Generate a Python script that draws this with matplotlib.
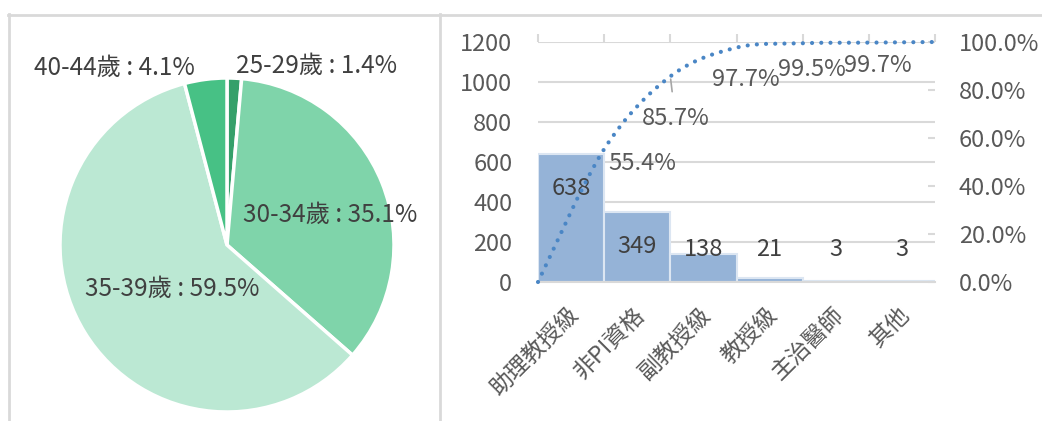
import numpy as np
import matplotlib.pyplot as plt
from matplotlib.path import Path
from matplotlib.patches import PathPatch
import matplotlib.transforms as mtransforms

plt.rcParams['font.family'] = ['Noto Sans CJK TC', 'DejaVu Sans']
plt.rcParams['font.weight'] = 'light'

# pie data
age_groups = ['25-29歲', '30-34歲', '35-39歲', '40-44歲']
age_share = [1.4, 35.1, 59.5, 4.1]
pie_colors = ['#35a06a', '#7fd4aa', '#bbe8d3', '#47c185']

# pareto data
titles = ['助理教授級', '非PI資格', '副教授級', '教授級', '主治醫師', '其他']
counts = [638, 349, 138, 21, 3, 3]

TXT = '#404040'
AX_TXT = '#595959'
GRID = '#d9d9d9'

W, H = 1042, 421
fig = plt.figure(figsize=(W / 100, H / 100), dpi=100)


def px_box(x0, y0, w, h):
    """pixel box (from top-left) -> figure fraction rect"""
    return [x0 / W, (H - y0 - h) / H, w / W, h / H]


# panel frames
frame = fig.add_axes([0, 0, 1, 1])
frame.set_xlim(0, W)
frame.set_ylim(H, 0)
frame.axis('off')
frame.plot([8, W], [14.5, 14.5], color=GRID, lw=2)
frame.plot([8.5, 8.5], [14, H], color=GRID, lw=2)
frame.plot([440, 440], [14, H], color=GRID, lw=2)

# ---- pie ----
cx, cy, r = 227, 245, 167
axp = fig.add_axes(px_box(cx - r, cy - r, 2 * r, 2 * r))
axp.pie(age_share, colors=pie_colors, startangle=90, counterclock=False,
        radius=1, wedgeprops=dict(edgecolor='white', linewidth=2.5))
axp.set_xlim(-1, 1)
axp.set_ylim(-1, 1)
axp.axis('off')

# label centres in pixels
pie_label_px = [(317, 66), (330, 215), (172, 289), (114, 68)]
for name, v, (lx, ly) in zip(age_groups, age_share, pie_label_px):
    axp.text((lx - cx) / r, (cy - ly) / r, f'{name} : {v}%', ha='center',
             va='center', fontsize=17.5, color=TXT)

# ---- pareto ----
ax = fig.add_axes(px_box(538, 42, 397, 240))
x = np.arange(len(counts))
ax.bar(x, counts, width=1.0, color='#95b3d7', edgecolor='#dce6f2',
       linewidth=1.5, zorder=2)
ax.set_xlim(-0.5, len(counts) - 0.5)
ax.set_ylim(0, 1200)
ax.set_yticks(range(0, 1201, 200))
ax.yaxis.grid(True, color=GRID, lw=1.5, zorder=0)
ax.set_axisbelow(True)
for s in ['top', 'left', 'right']:
    ax.spines[s].set_visible(False)
ax.spines['bottom'].set_color(GRID)
ax.spines['bottom'].set_linewidth(1.5)
ax.tick_params(axis='y', length=0, pad=18.5, labelsize=17, labelcolor=AX_TXT)
ax.set_xticks(x)
ax.set_xticklabels(titles)
ax.tick_params(axis='x', length=0, pad=15, labelsize=16.5, labelcolor=AX_TXT)
offset = mtransforms.ScaledTranslation(-4 / 100, 0, fig.dpi_scale_trans)
for lab in ax.get_xticklabels():
    lab.set_rotation(45)
    lab.set_ha('right')
    lab.set_rotation_mode('anchor')
    lab.set_transform(lab.get_transform() + offset)
# boundary ticks on top gridline
ax.set_xticks(np.arange(-0.5, len(counts)), minor=True)
ax.tick_params(axis='x', which='minor', bottom=False, top=True,
               direction='out', length=6, width=1.5, color=GRID)

for xi, v in zip(x, counts):
    ax.text(xi, max(v - 170, 160), str(v), ha='center', va='center',
            fontsize=17, color=TXT, zorder=4)

# cumulative percentage on secondary axis
ax2 = ax.twinx()
ax2.set_ylim(0, 1)
ax2.set_yticks(np.linspace(0, 1, 6))
ax2.set_yticklabels([f'{t * 100:.1f}%' for t in np.linspace(0, 1, 6)])
ax2.tick_params(axis='y', direction='in', length=5, width=1.5, color=GRID,
                pad=17, labelsize=17, labelcolor=AX_TXT)
for s in ax2.spines.values():
    s.set_visible(False)

cum = np.concatenate([[0], np.cumsum(counts) / np.sum(counts)])
cx_pts = np.arange(-0.5, len(counts))

# smoothed line (cubic bezier through the points)
verts = [(cx_pts[0], cum[0])]
codes = [Path.MOVETO]
n = len(cum)
for i in range(n - 1):
    p0 = np.array([cx_pts[max(i - 1, 0)], cum[max(i - 1, 0)]])
    p1 = np.array([cx_pts[i], cum[i]])
    p2 = np.array([cx_pts[i + 1], cum[i + 1]])
    p3 = np.array([cx_pts[min(i + 2, n - 1)], cum[min(i + 2, n - 1)]])
    c1 = p1 + (p2 - p0) / 6
    c2 = p2 - (p3 - p1) / 6
    verts += [tuple(c1), tuple(c2), tuple(p2)]
    codes += [Path.CURVE4] * 3
line = PathPatch(Path(verts, codes), fill=False, edgecolor='#4a86c5',
                 lw=3, linestyle=(0, (0.01, 2.2)), capstyle='round',
                 zorder=5, clip_on=False)
ax2.add_patch(line)

# labels for cumulative points (offsets in px, right/down)
lab_off = [(38, 14), (5, 42), (9, 32), (9, 26), (9, 23)]
for i, (dx, dy) in enumerate(lab_off):
    xp, yp = cx_pts[i + 1], cum[i + 1]
    arrow = None
    if dy > 40:
        arrow = dict(arrowstyle='-', color='#a6a6a6', lw=1.2,
                     shrinkA=9, shrinkB=2)
    ax2.annotate(f'{yp * 100:.1f}%', (xp, yp), xytext=(dx * 0.72, -dy * 0.72),
                 textcoords='offset points', ha='center', va='center',
                 fontsize=17, color=AX_TXT, arrowprops=arrow, zorder=6)

fig.savefig('out.png', dpi=100)
